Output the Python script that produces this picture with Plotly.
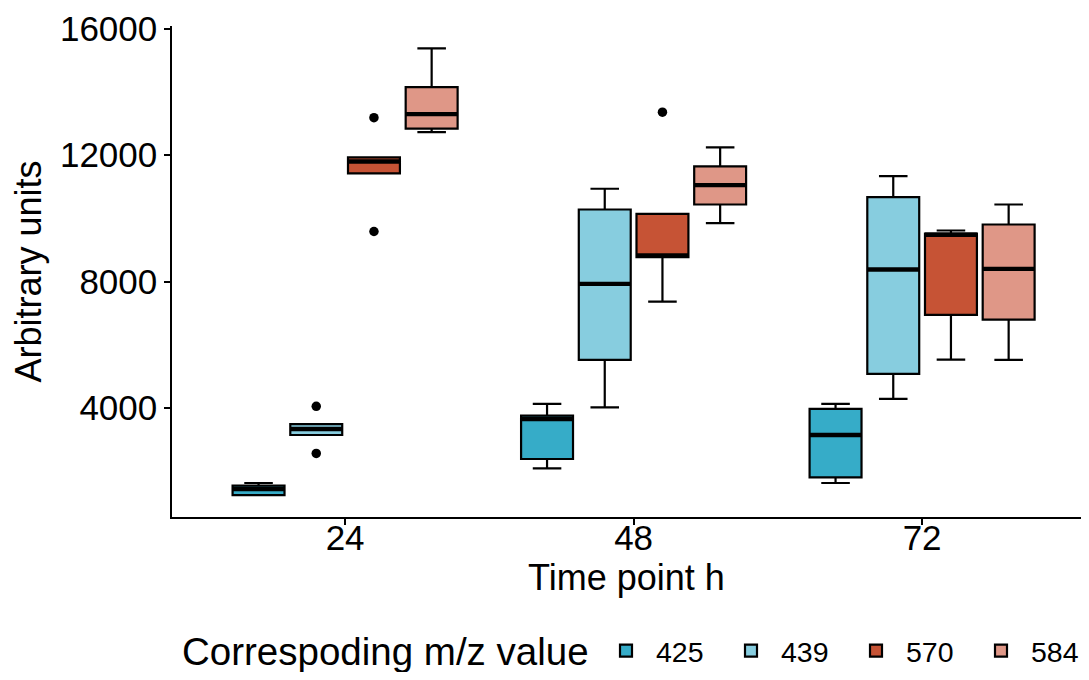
import plotly.graph_objects as go

# ---------------- data ----------------
time_points = ["24", "48", "72"]
groups = ["425", "439", "570", "584"]
colors = ["#36ACC8", "#87CDDF", "#C65335", "#DF9787"]
legend_title = "Correspoding m/z value"

lowerfence = {
    "425": [1245, 2087, 1625],
    "439": [3145, 4019, 4285],
    "570": [11420, 7366, 5529],
    "584": [12727, 9845, 5520],
}
q1 = {
    "425": [1245, 2385, 1803],
    "439": [3145, 5520, 5077],
    "570": [11420, 8769, 6945],
    "584": [12835, 10438, 6796],
}
median = {
    "425": [1435, 3652, 3145],
    "439": [3335, 7926, 8379],
    "570": [11800, 8823, 9478],
    "584": [13297, 11049, 8402],
}
q3 = {
    "425": [1540, 3756, 3968],
    "439": [3490, 10279, 10669],
    "570": [11930, 10143, 9519],
    "584": [14152, 11641, 9804],
}
upperfence = {
    "425": [1625, 4127, 4127],
    "439": [3490, 10935, 11334],
    "570": [11930, 10143, 9614],
    "584": [15377, 12243, 10438],
}
# outliers: (time point index, value)
outliers = {
    "425": [],
    "439": [(0, 4051), (0, 2562)],
    "570": [(0, 13183), (0, 9583), (1, 13360)],
    "584": [],
}

# ---------------- layout params ----------------
dodge_total = 0.8
slot = dodge_total / len(groups)
box_w = slot * 0.9
offsets = [(-dodge_total / 2 + slot * (i + 0.5)) for i in range(len(groups))]
base = list(range(1, len(time_points) + 1))

FONT = "Liberation Sans, Arial, Helvetica, sans-serif"
W, H = 1073, 664  # page body has an 8px margin
ML, MT, MB = 164, 18, 155
PLOT_BOTTOM = H - MB
PLOT_H = PLOT_BOTTOM - MT
LEG_Y = 643  # legend row centre, figure px

fig = go.Figure()
for gi, g in enumerate(groups):
    xs = [b + offsets[gi] for b in base]
    fig.add_trace(go.Box(
        name=g,
        x=xs,
        q1=q1[g], median=median[g], q3=q3[g],
        lowerfence=lowerfence[g], upperfence=upperfence[g],
        width=box_w,
        whiskerwidth=0.55,
        fillcolor=colors[gi],
        line=dict(color="black", width=2.2),
        boxpoints=False,
        hoverinfo="skip",
    ))

# thicker median lines
for gi, g in enumerate(groups):
    mx, my = [], []
    for ti, b in enumerate(base):
        c = b + offsets[gi]
        mx += [c - box_w / 2, c + box_w / 2, None]
        my += [median[g][ti], median[g][ti], None]
    fig.add_trace(go.Scatter(x=mx, y=my, mode="lines",
                             line=dict(color="black", width=4.4),
                             showlegend=False, hoverinfo="skip"))

# outliers
for gi, g in enumerate(groups):
    if outliers[g]:
        fig.add_trace(go.Scatter(
            x=[base[t] + offsets[gi] for t, _ in outliers[g]],
            y=[v for _, v in outliers[g]],
            mode="markers",
            marker=dict(color="black", size=9.5),
            showlegend=False, hoverinfo="skip"))

# legend title as a free text, aligned with the legend row
fig.add_annotation(
    text=legend_title, xref="paper", yref="paper",
    x=(172 - ML) / (W - ML), xanchor="left",
    y=-(LEG_Y - PLOT_BOTTOM) / PLOT_H, yanchor="middle",
    showarrow=False,
    font=dict(size=38.5, family=FONT, color="black"),
)

fig.update_layout(
    width=W, height=H,
    margin=dict(l=ML, r=0, t=MT, b=MB),
    paper_bgcolor="white", plot_bgcolor="white",
    font=dict(family=FONT, color="black"),
    boxmode="overlay",
    showlegend=True,
    legend=dict(
        orientation="h",
        xref="container", yref="container",
        x=588 / W, xanchor="left",
        y=1 - LEG_Y / H, yanchor="middle",
        font=dict(size=28.5, family=FONT, color="black"),
        itemwidth=50,
        entrywidth=60,
        traceorder="normal",
    ),
    xaxis=dict(
        automargin=False,
        range=[0.4, 0.4 + (W - ML) / 288.5],
        tickmode="array", tickvals=base, ticktext=time_points,
        showline=True, linecolor="black", linewidth=1.5,
        ticks="outside", ticklen=6, tickwidth=1.5, tickcolor="black",
        ticklabelstandoff=-17,
        tickfont=dict(size=35, family=FONT, color="black"),
        showgrid=False, zeroline=False,
        title=dict(text="Time point h", font=dict(size=36, family=FONT, color="black"),
                   standoff=4),
    ),
    yaxis=dict(
        automargin=False,
        range=[550, 16085],
        tickmode="array", tickvals=[4000, 8000, 12000, 16000],
        ticktext=["4000", "8000", "12000", "16000"],
        showline=True, linecolor="black", linewidth=1.5,
        ticks="outside", ticklen=6, tickwidth=1.5, tickcolor="black",
        tickfont=dict(size=35, family=FONT, color="black"),
        showgrid=False, zeroline=False,
        title=dict(text="Arbitrary units", font=dict(size=36, family=FONT, color="black"),
                   standoff=16),
    ),
)

fig.write_html("out.html")
